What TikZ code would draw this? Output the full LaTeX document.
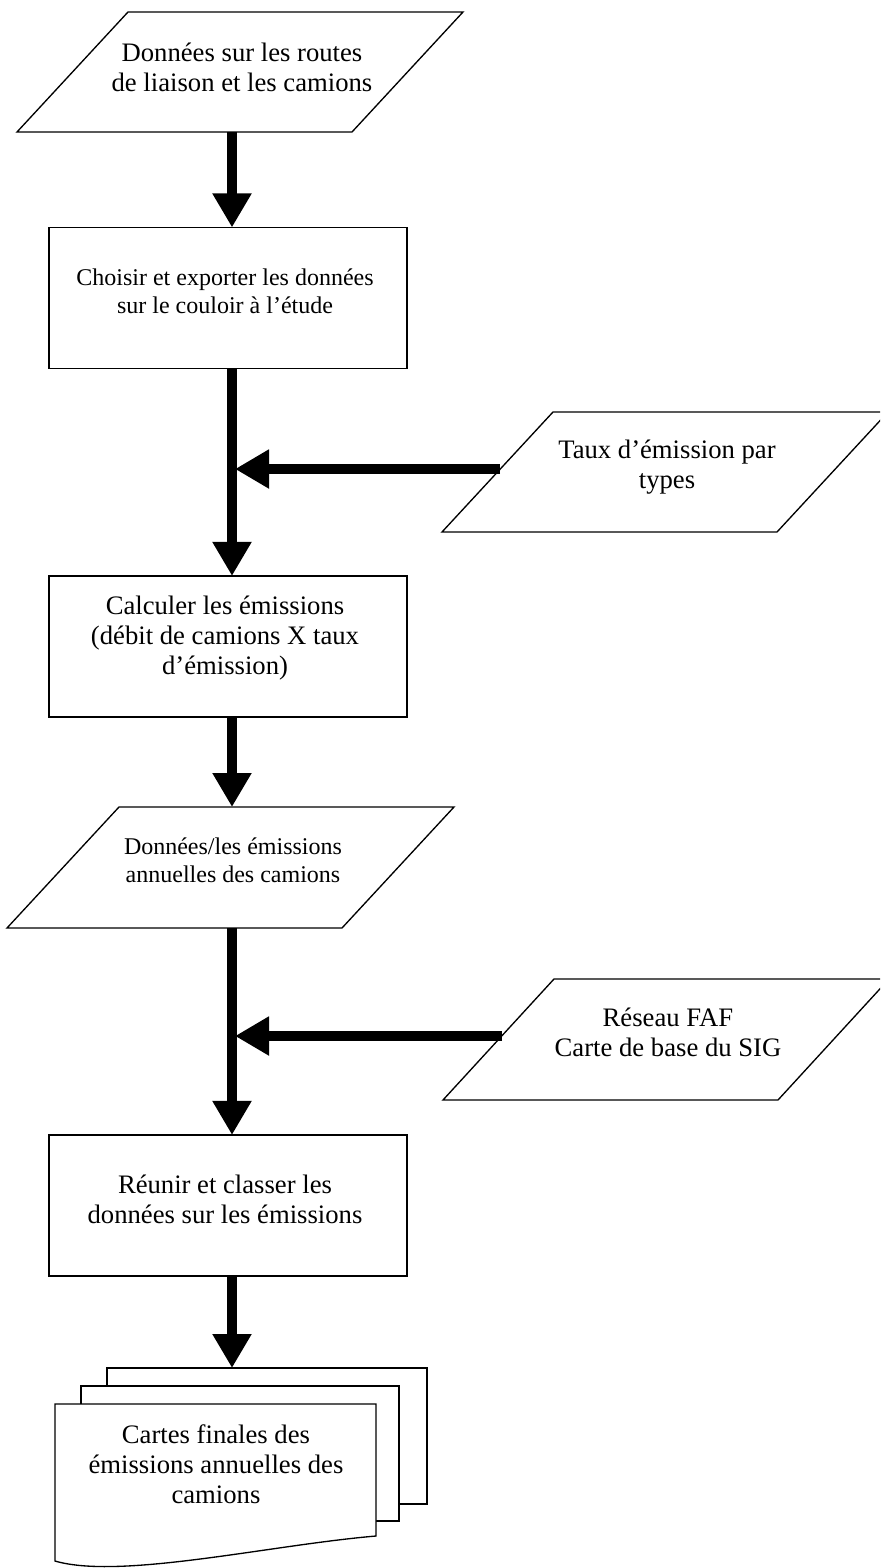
\documentclass[tikz,border=0pt]{standalone}
\usepackage{fontspec}
\setmainfont{Liberation Serif}
\usetikzlibrary{arrows.meta}
\begin{document}
\begin{tikzpicture}[x=0.45pt,y=-0.45pt,
  shapeline/.style={draw=black, line width=0.6pt, fill=white, line join=miter},
  boxnode/.style={draw=black, line width=0.6pt, fill=white, minimum width=161.1pt, minimum height=63.5pt, inner sep=0pt, outer sep=0pt},
  docnode/.style={draw=black, line width=0.6pt, fill=white, inner sep=0pt, outer sep=0pt},
  txt/.style={align=center, inner sep=0pt, font=\fontsize{12}{13.5}\selectfont},
  txts/.style={align=center, inner sep=0pt, font=\fontsize{10.8}{12.6}\selectfont},
  flow/.style={line width=4.4pt, -{Triangle[length=15.3pt,width=16.6pt]}}
]
\useasboundingbox (0,0) rectangle (880,1568);
\clip (0,0) rectangle (880,1568);

% input parallelogram 1
\draw[shapeline] (128,12) -- (463,12) -- (352,132) -- (17,132) -- cycle;
\node[txt] (t1) at (242,67) {Données sur les routes\\de liaison et les camions};
\coordinate (p1out) at (232,132);

% box 1
\node[boxnode] (b1) at (228,298) {};
\node[txts] (t2) at (225,291) {Choisir et exporter les données\\sur le couloir à l’étude};

% input parallelogram 2 (Taux)
\draw[shapeline] (553,412) -- (888,412) -- (777,532) -- (442,532) -- cycle;
\node[txt] (t3) at (667,467) {Taux d’émission par\\types};
\coordinate (p2out) at (500,469);

% box 2
\node[boxnode] (b2) at (228,646.5) {};
\node[txt] (t4) at (225,638) {Calculer les émissions\\(débit de camions X taux\\d’émission)};

% parallelogram 3
\draw[shapeline] (119,807) -- (454,807) -- (342,928) -- (7,928) -- cycle;
\node[txts] (t5) at (233,860) {Données/les émissions\\annuelles des camions};
\coordinate (p3in) at (232,807);
\coordinate (p3out) at (232,928);

% parallelogram 4 (FAF)
\draw[shapeline] (554,979) -- (889,979) -- (778,1100) -- (443,1100) -- cycle;
\node[txt] (t6) at (668,1032) {Réseau FAF\\Carte de base du SIG};
\coordinate (p4out) at (502,1036);

% box 3
\node[boxnode] (b3) at (228,1205.5) {};
\node[txt] (t7) at (225,1199) {Réunir et classer les\\données sur les émissions};

% multidocument
\node[docnode, minimum width=144pt, minimum height=61.2pt] (dback) at (267,1436) {};
\node[docnode, minimum width=143.1pt, minimum height=60.75pt] (dmid) at (240,1453.5) {};
\draw[shapeline] (55,1561) -- (55,1404) -- (376,1404) -- (376,1536)
   .. controls (270,1545) and (120,1580) .. (55,1561) -- cycle;
\node[txt] (t8) at (216,1464) {Cartes finales des\\émissions annuelles des\\camions};

% connectors
\draw[flow] (p1out) -- (p1out |- b1.north);
\draw[flow] (b1.south -| p1out) -- (p1out |- b2.north);
\draw[flow] (p2out) -- ([xshift=3*0.45pt]p2out -| p1out);
\draw[flow] (b2.south -| p1out) -- (p3in);
\draw[flow] (p3out) -- (p1out |- b3.north);
\draw[flow] (p4out) -- ([xshift=3*0.45pt]p4out -| p1out);
\draw[flow] (b3.south -| p1out) -- (p1out |- dback.north);
\end{tikzpicture}
\end{document}
